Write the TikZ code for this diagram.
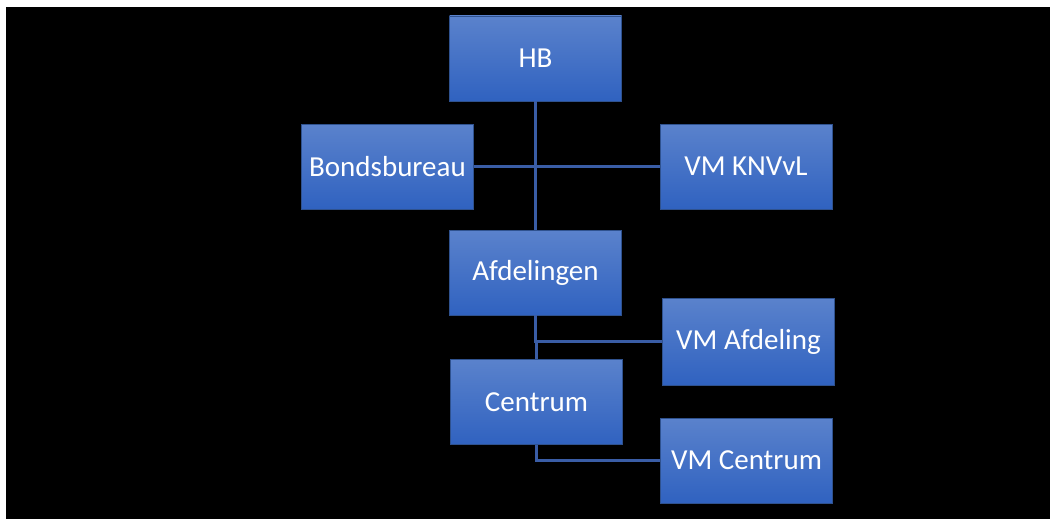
\documentclass[tikz,border=0pt]{standalone}
\usepackage{fontspec}
\setmainfont{Carlito}
\usetikzlibrary{positioning}

\definecolor{boxtop}{HTML}{5A82CC}
\definecolor{boxbot}{HTML}{3062C0}
\definecolor{boxedge}{HTML}{2F528F}
\definecolor{linkblue}{HTML}{3A5DA6}

\tikzset{
  unit/.style={rectangle, draw=boxedge, line width=0.8pt, top color=boxtop, bottom color=boxbot,
    minimum width=172pt, minimum height=85pt, inner sep=0pt, text=white,
    font=\fontsize{29}{34}\selectfont},
  link/.style={draw=linkblue, line width=2.6pt}
}

\begin{document}
\begin{tikzpicture}[x=1pt,y=-1pt]
  \useasboundingbox (0,0) rectangle (1050,519);
  \fill[white] (-2,-2) rectangle (1052,521);
  \fill[black] (6,7) rectangle (1053,522);

  \node[unit] (hb) at (535.5,58.5) {HB};
  \node[unit] (bureau) at (387.5,166.5) {Bondsbureau};
  \node[unit] (knvvl) at (746,166.5) {VM KNVvL};
  \node[unit] (afd) at (535.5,272.5) {Afdelingen};
  \node[unit, minimum height=87pt] (vmafd) at (748.5,341.5) {VM Afdeling};
  \node[unit] (centrum) at (536.5,402) {Centrum};
  \node[unit] (vmcentrum) at (746.5,460.5) {VM Centrum};

  \draw[link] (hb.south) -- (afd.north);
  \draw[link] (bureau.east) -- (knvvl.west);
  \draw[link] (afd.south) |- (vmafd.west);
  \draw[link] (centrum.north) -- (centrum.north |- vmafd.west);
  \draw[link] (centrum.south) |- (vmcentrum.west);
\end{tikzpicture}
\end{document}
